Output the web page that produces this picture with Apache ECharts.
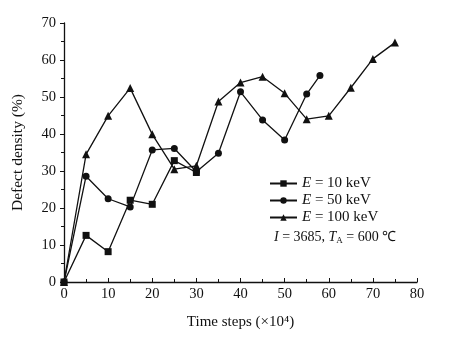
<!DOCTYPE html>
<html><head><meta charset="utf-8">
<script src="https://cdn.jsdelivr.net/npm/echarts@6/dist/echarts.min.js"></script>
<style>html,body{margin:0;padding:0;background:#fff}#c{width:449px;height:343px}</style>
</head><body><div id="c"></div>
<script>
const xTicks = [0,10,20,30,40,50,60,70,80];
const yTicks = [0,10,20,30,40,50,60,70];
const steps10 = [0,5,10,15,20,25,30];
const e10 = [0,12.6,8.2,22.1,21,32.8,29.6];
const steps50 = [0,5,10,15,20,25,30,35,40,45,50,55,58];
const e50 = [0,28.6,22.5,20.3,35.7,36.1,29.8,34.8,51.4,43.8,38.4,50.8,55.8];
const steps100 = [0,5,10,15,20,25,30,35,40,45,50,55,60,65,70,75];
const e100 = [0,34.5,44.9,52.4,39.9,30.5,31.4,48.8,53.9,55.5,51,44,44.9,52.5,60.3,64.7];
const names = ['E = 10 keV','E = 50 keV','E = 100 keV'];

const font = '"Liberation Serif","Times New Roman",serif';
const ink = '#111';
const pair = (xs, ys) => xs.map((x, i) => [x, ys[i]]);
const mk = (name, xs, ys, sym, size) => ({
  name, type: 'line', data: pair(xs, ys), symbol: sym, symbolSize: size,
  showSymbol: true, lineStyle: {color: ink, width: 1.3}, itemStyle: {color: ink},
  emphasis: {disabled: true}, z: 3
});
const chart = echarts.init(document.getElementById('c'));
chart.setOption({
  animation: false,
  backgroundColor: '#fff',
  grid: {left: 64, right: 32, top: 23, bottom: 61},
  xAxis: {
    type: 'value', min: xTicks[0], max: xTicks[xTicks.length-1], interval: 10,
    axisLine: {lineStyle: {color: ink, width: 1.3}},
    axisTick: {inside: true, length: 4, lineStyle: {color: ink}},
    minorTick: {show: true, splitNumber: 2, length: 3, lineStyle: {color: ink}},
    splitLine: {show: false},
    axisLabel: {color: ink, fontFamily: font, fontSize: 14.5, margin: 5},
    name: 'Time steps (×10⁴)', nameLocation: 'middle', nameGap: 33,
    nameTextStyle: {color: ink, fontFamily: font, fontSize: 15}
  },
  yAxis: {
    type: 'value', min: yTicks[0], max: yTicks[yTicks.length-1], interval: 10,
    axisLine: {show: true, lineStyle: {color: ink, width: 1.3}},
    axisTick: {show: true, inside: false, length: 4, lineStyle: {color: ink}},
    minorTick: {show: true, splitNumber: 2, length: 3, lineStyle: {color: ink}},
    splitLine: {show: false},
    axisLabel: {color: ink, fontFamily: font, fontSize: 14.5, margin: 8},
    name: 'Defect density (%)', nameLocation: 'middle', nameGap: 38,
    nameTextStyle: {color: ink, fontFamily: font, fontSize: 15.5}
  },
  legend: {
    orient: 'vertical', left: 264, top: 171, itemGap: 2, itemWidth: 27, itemHeight: 8,
    data: names,
    formatter: n => '{i|E}' + n.slice(1),
    textStyle: {color: ink, fontFamily: font, fontSize: 15,
      rich: {i: {fontStyle: 'italic', fontFamily: font, fontSize: 15, color: ink}}}
  },
  graphic: [{
    type: 'text', left: 274, top: 230,
    style: {
      text: '{i|I} = 3685, {i|T}{s|A} = 600 ℃',
      fill: ink, font: '14px ' + font,
      rich: {
        i: {fontStyle: 'italic', fontFamily: font, fontSize: 14, fill: ink},
        s: {fontFamily: font, fontSize: 9, verticalAlign: 'bottom', padding: [7,0,0,0], fill: ink}
      }
    }
  }],
  series: [
    mk(names[0], steps10, e10, 'rect', 7),
    mk(names[1], steps50, e50, 'circle', 7),
    mk(names[2], steps100, e100, 'triangle', 8)
  ]
});
</script></body></html>
